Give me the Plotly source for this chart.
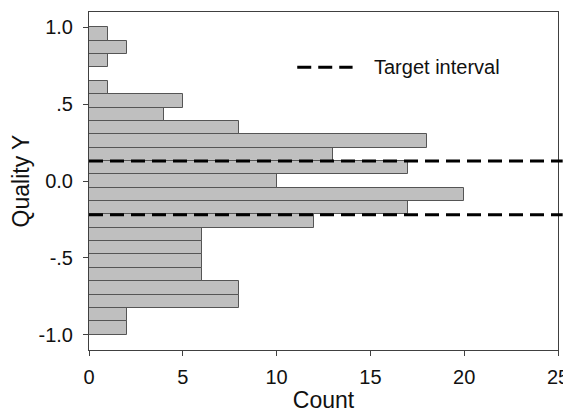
import numpy as np
import plotly.graph_objects as go

# Histogram counts, bins from bottom (-1.0) to top (1.0)
counts = [2, 2, 8, 8, 6, 6, 6, 6, 12, 17, 20, 10, 17, 13, 18, 8, 4, 5, 1, 0, 1, 2, 1]
y_min, y_max = -1.0, 1.0
target_lines = [0.13, -0.22]
legend_label = "Target interval"
x_ticks = [0, 5, 10, 15, 20, 25]
y_tickvals = [-1.0, -0.5, 0.0, 0.5, 1.0]
y_ticktext = ["-1.0", "-.5", "0.0", ".5", "1.0"]

n = len(counts)
bw = (y_max - y_min) / n
centers = [y_min + bw * (i + 0.5) for i in range(n)]

fig = go.Figure()
fig.add_trace(go.Bar(
    x=counts, y=centers, orientation="h", width=bw,
    marker=dict(color="#bfbfbf", line=dict(color="#555555", width=1)),
    showlegend=False, hoverinfo="skip",
))

for yv in target_lines:
    fig.add_shape(type="line", xref="paper", yref="y", x0=0, x1=1.01, y0=yv, y1=yv,
                  line=dict(color="black", width=3, dash="14px,7px"), layer="above")

# legend sample
fig.add_shape(type="line", xref="x", yref="y", x0=11.1, x1=14.05, y0=0.74, y1=0.74,
              line=dict(color="black", width=3, dash="14px,7px"))
fig.add_annotation(x=15.1, y=0.74, xref="x", yref="y", text=legend_label, showarrow=False,
                   xanchor="left", yanchor="middle",
                   font=dict(family="Liberation Sans, Arial", size=20, color="#111111"))

axis_common = dict(showline=True, linecolor="#404040", linewidth=1, mirror=True,
                   ticks="outside", ticklen=5, tickcolor="#404040", showgrid=False,
                   zeroline=False, automargin=False, ticklabeloverflow="allow",
                   tickfont=dict(family="Liberation Sans, Arial", size=20, color="#111111"))

fig.update_layout(
    width=563, height=405,
    margin=dict(l=81, r=13, t=4, b=63),
    plot_bgcolor="white", paper_bgcolor="white",
    bargap=0,
    xaxis=dict(range=[0, 25], tickvals=x_ticks, ticklabelstandoff=4,
               title=dict(text="Count", font=dict(family="Liberation Sans, Arial", size=23, color="#111111"), standoff=17),
               **axis_common),
    yaxis=dict(range=[-1.1, 1.1], tickvals=y_tickvals, ticktext=y_ticktext, ticklabelstandoff=6,
               title=dict(text="Quality Y", font=dict(family="Liberation Sans, Arial", size=23, color="#111111"), standoff=10),
               **axis_common),
)

fig.write_html("out.html")
